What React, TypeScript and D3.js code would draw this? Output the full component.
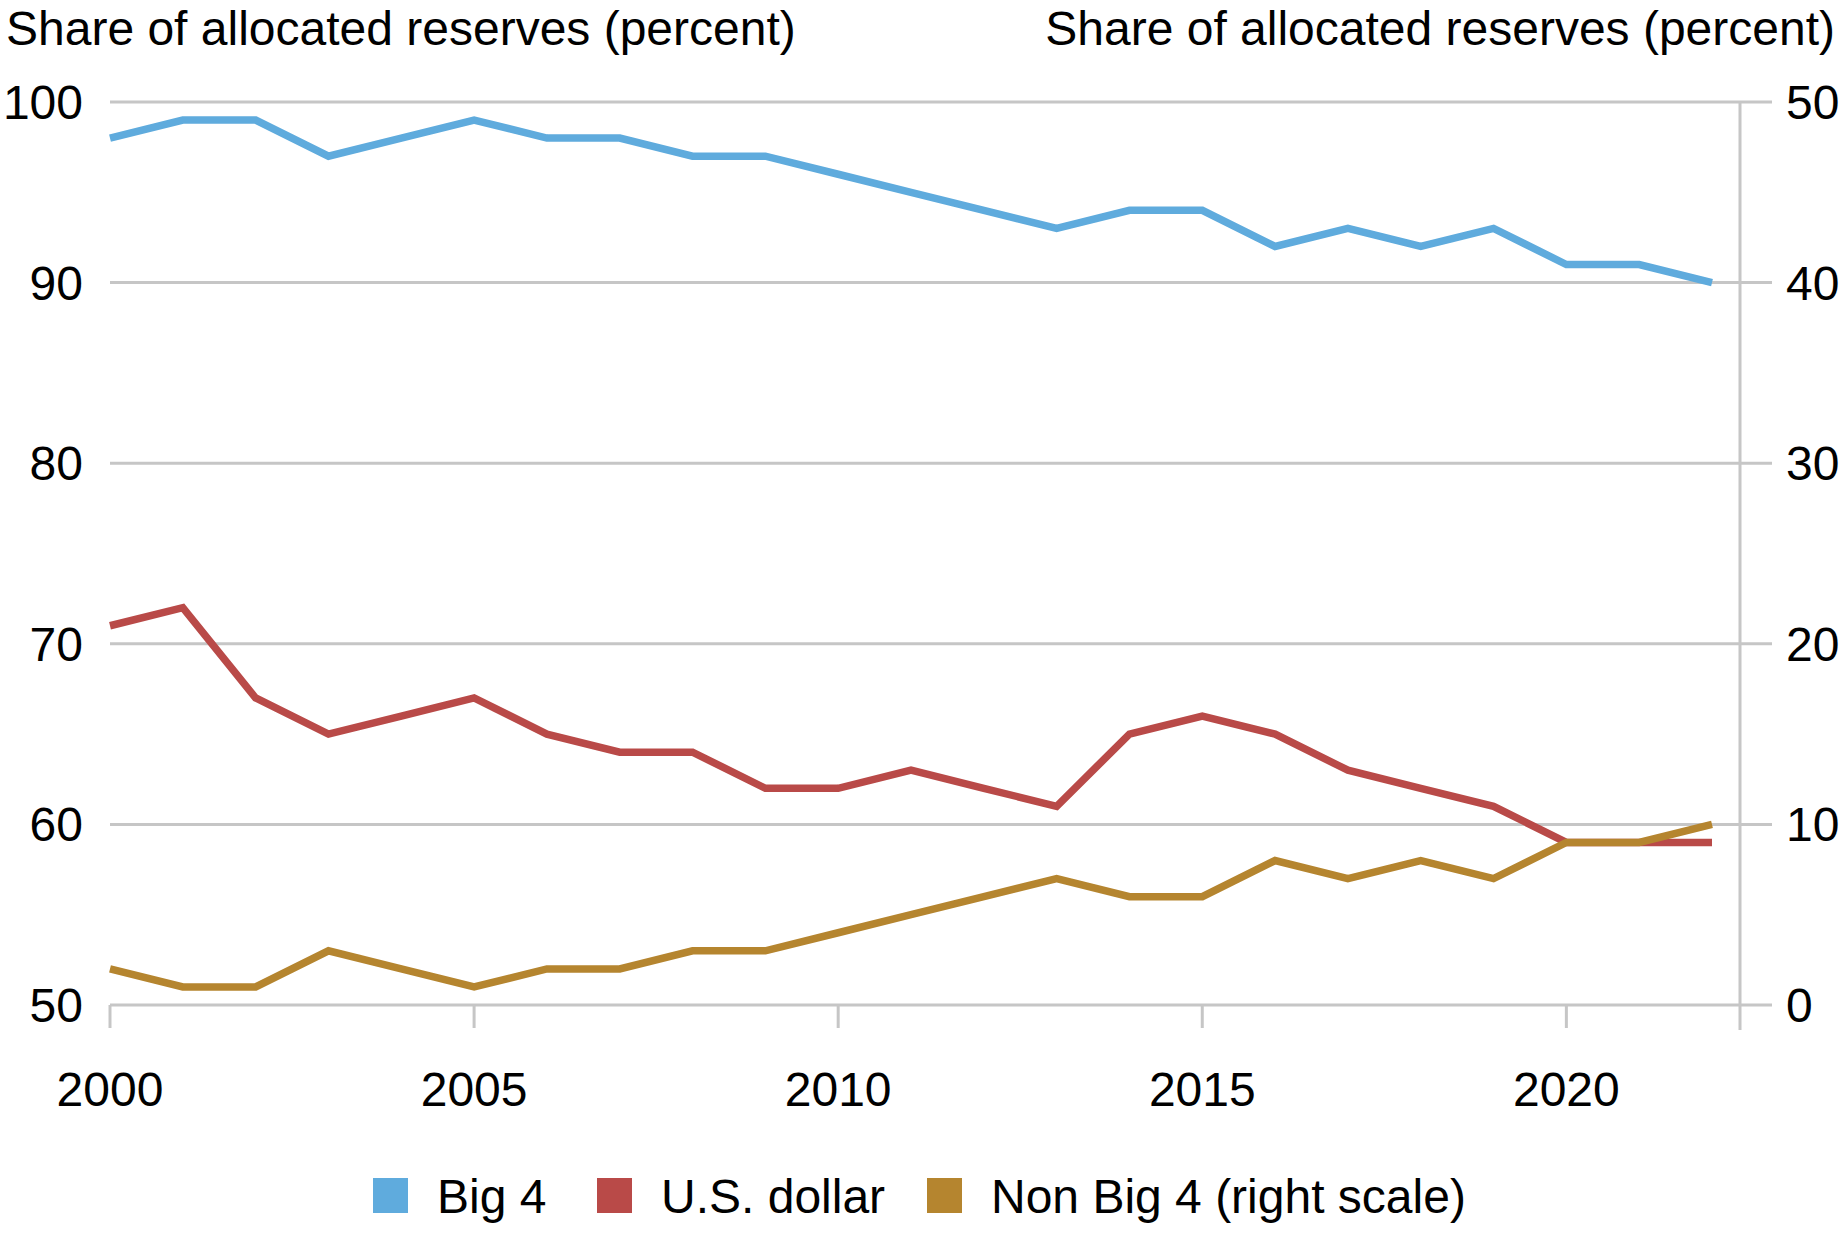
import React, { useRef, useEffect } from 'react';
import * as d3 from 'd3';

// Annual shares of allocated reserves, 2000-2022
const years = d3.range(2000, 2023);
const big4 = [98, 99, 99, 97, 98, 99, 98, 98, 97, 97, 96, 95, 94, 93, 94, 94, 92, 93, 92, 93, 91, 91, 90];
const usDollar = [71, 72, 67, 65, 66, 67, 65, 64, 64, 62, 62, 63, 62, 61, 65, 66, 65, 63, 62, 61, 59, 59, 59];
const nonBig4 = [2, 1, 1, 3, 2, 1, 2, 2, 3, 3, 4, 5, 6, 7, 6, 6, 8, 7, 8, 7, 9, 9, 10];

const leftTicks = [50, 60, 70, 80, 90, 100];
const rightTicks = [0, 10, 20, 30, 40, 50];
const xTicks = [2000, 2005, 2010, 2015, 2020];

const colors = {
  blue: '#5fabdd',
  red: '#b94a48',
  gold: '#b5852f',
  grid: '#c6c6c6',
  text: '#000000',
};

const legendItems = [
  { label: 'Big 4', color: colors.blue },
  { label: 'U.S. dollar', color: colors.red },
  { label: 'Non Big 4 (right scale)', color: colors.gold },
];

const width = 1840;
const height = 1234;
const font = '"Liberation Sans", Arial, sans-serif';
const fontSize = 48;

const ReservesChart: React.FC = () => {
  const svgRef = useRef<SVGSVGElement>(null);

  useEffect(() => {
    if (!svgRef.current) return;
    const svg = d3.select(svgRef.current);
    svg.selectAll('*').remove();

    const plotLeft = 110;
    const plotRight = 1740;
    const plotTop = 102;
    const plotBottom = 1005;

    const xScale = d3.scaleLinear().domain([2000, 2022]).range([plotLeft, 1712]);
    const yLeft = d3.scaleLinear().domain([50, 100]).range([plotBottom, plotTop]);
    const yRight = d3.scaleLinear().domain([0, 50]).range([plotBottom, plotTop]);

    // Gridlines (run through the right-axis tick marks)
    svg.append('g')
      .selectAll('line')
      .data(leftTicks)
      .join('line')
      .attr('x1', plotLeft)
      .attr('x2', plotRight + 32)
      .attr('y1', d => yLeft(d))
      .attr('y2', d => yLeft(d))
      .attr('stroke', colors.grid)
      .attr('stroke-width', 3);

    // Right axis line
    svg.append('line')
      .attr('x1', plotRight)
      .attr('x2', plotRight)
      .attr('y1', plotTop)
      .attr('y2', plotBottom + 25)
      .attr('stroke', colors.grid)
      .attr('stroke-width', 3);

    // X ticks
    svg.append('g')
      .selectAll('line')
      .data(xTicks)
      .join('line')
      .attr('x1', d => xScale(d))
      .attr('x2', d => xScale(d))
      .attr('y1', plotBottom)
      .attr('y2', plotBottom + 23)
      .attr('stroke', colors.grid)
      .attr('stroke-width', 3);

    // Left tick labels
    svg.append('g')
      .selectAll('text')
      .data(leftTicks)
      .join('text')
      .attr('x', 83)
      .attr('y', d => yLeft(d) + 17)
      .attr('text-anchor', 'end')
      .attr('font-family', font)
      .attr('font-size', fontSize)
      .attr('fill', colors.text)
      .text(d => d);

    // Right tick labels
    svg.append('g')
      .selectAll('text')
      .data(rightTicks)
      .join('text')
      .attr('x', 1786)
      .attr('y', d => yRight(d) + 17)
      .attr('text-anchor', 'start')
      .attr('font-family', font)
      .attr('font-size', fontSize)
      .attr('fill', colors.text)
      .text(d => d);

    // X tick labels
    svg.append('g')
      .selectAll('text')
      .data(xTicks)
      .join('text')
      .attr('x', d => xScale(d))
      .attr('y', 1106)
      .attr('text-anchor', 'middle')
      .attr('font-family', font)
      .attr('font-size', fontSize)
      .attr('fill', colors.text)
      .text(d => d);

    // Series
    const series = [
      { values: big4, scale: yLeft, color: colors.blue },
      { values: usDollar, scale: yLeft, color: colors.red },
      { values: nonBig4, scale: yRight, color: colors.gold },
    ];

    series.forEach(s => {
      const line = d3.line<number>()
        .x((d, i) => xScale(years[i]))
        .y(d => s.scale(d));
      svg.append('path')
        .datum(s.values)
        .attr('d', line)
        .attr('fill', 'none')
        .attr('stroke', s.color)
        .attr('stroke-width', 7.5)
        .attr('stroke-linejoin', 'miter');
    });

    // Axis titles
    svg.append('text')
      .attr('x', 6)
      .attr('y', 45)
      .attr('font-family', font)
      .attr('font-size', fontSize)
      .attr('fill', colors.text)
      .text('Share of allocated reserves (percent)');

    svg.append('text')
      .attr('x', 1835)
      .attr('y', 45)
      .attr('text-anchor', 'end')
      .attr('font-family', font)
      .attr('font-size', fontSize)
      .attr('fill', colors.text)
      .text('Share of allocated reserves (percent)');

    // Legend
    const legendX = [373, 597, 927];
    const legend = svg.append('g');
    legendItems.forEach((item, i) => {
      legend.append('rect')
        .attr('x', legendX[i])
        .attr('y', 1178)
        .attr('width', 35)
        .attr('height', 35)
        .attr('fill', item.color);
      legend.append('text')
        .attr('x', legendX[i] + 64)
        .attr('y', 1213)
        .attr('font-family', font)
        .attr('font-size', fontSize)
        .attr('fill', colors.text)
        .text(item.label);
    });
  }, []);

  return (
    <svg
      ref={svgRef}
      width={width}
      height={height}
      style={{ position: 'absolute', left: 0, top: 0, background: '#fff' }}
    />
  );
};

export default function App() {
  return <ReservesChart />;
}
